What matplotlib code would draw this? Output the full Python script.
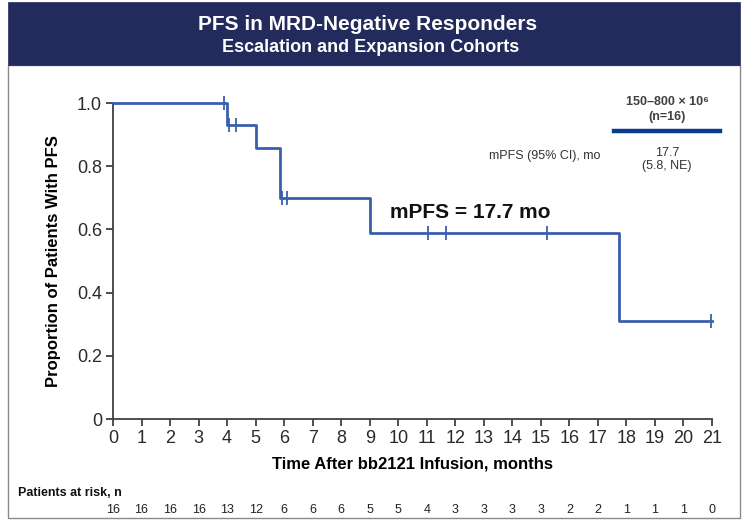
import matplotlib
matplotlib.use("Agg")
import matplotlib.pyplot as plt
from matplotlib.patches import Rectangle
from matplotlib.transforms import blended_transform_factory
import numpy as np

plt.rcParams['font.family'] = ['Liberation Sans', 'DejaVu Sans']

# ---- data ----
step_times = [0, 4.0, 5.0, 5.85, 9.0, 17.75, 21.0]
step_surv = [1.0, 0.929, 0.857, 0.70, 0.59, 0.31, 0.31]
censor_times = [3.9, 4.05, 4.3, 5.92, 6.1, 11.06, 11.68, 15.2, 20.95]
risk_months = list(range(0, 22))
at_risk = [16, 16, 16, 16, 13, 12, 6, 6, 6, 5, 5, 4, 3, 3, 3, 3, 2, 2, 1, 1, 1, 0]
y_ticks = [0, 0.2, 0.4, 0.6, 0.8, 1.0]
y_ticklabels = ['0', '0.2', '0.4', '0.6', '0.8', '1.0']

W, H = 747, 525
fig = plt.figure(figsize=(W / 100, H / 100), dpi=100)
fig.patch.set_facecolor('white')

def fx(px):
    return px / W

def fy(py):
    return 1 - py / H

# panel border
fig.patches.append(Rectangle((fx(8), fy(518)), fx(740) - fx(8), fy(65) - fy(518),
                             transform=fig.transFigure, facecolor='none',
                             edgecolor='#8a8a8a', linewidth=1.0, zorder=-1))
# header banner
fig.patches.append(Rectangle((fx(8), fy(65)), fx(740) - fx(8), fy(2) - fy(65),
                             transform=fig.transFigure, facecolor='#232a5c',
                             edgecolor='#232a5c', linewidth=0.5, zorder=-1))
fig.text(fx(368), fy(25), 'PFS in MRD-Negative Responders', color='white',
         fontsize=15, fontweight='bold', ha='center', va='center')
fig.text(fx(371), fy(48), 'Escalation and Expansion Cohorts', color='white',
         fontsize=13, fontweight='bold', ha='center', va='center')

ax = fig.add_axes([fx(113), fy(419), fx(712) - fx(113), fy(103) - fy(419)])
ax.set_facecolor('none')
ax.set_xlim(0, 21)
ax.set_ylim(0, 1)

curve_color = '#3a5fad'
ax.step(step_times, step_surv, where='post', color=curve_color, lw=2.0,
        clip_on=False, zorder=3)
st = np.array(step_times)
sv = np.array(step_surv)
cens_vals = [sv[np.searchsorted(st, t, side='right') - 1] for t in censor_times]
ax.plot(censor_times, cens_vals, linestyle='none', marker='|', markersize=10,
        markeredgewidth=1.3, color=curve_color, clip_on=False, zorder=4)

for s in ['top', 'right']:
    ax.spines[s].set_visible(False)
for s in ['left', 'bottom']:
    ax.spines[s].set_color('#404040')
    ax.spines[s].set_linewidth(1.3)

ax.set_xticks(risk_months)
ax.set_xticklabels([str(m) for m in risk_months])
ax.set_yticks(y_ticks)
ax.set_yticklabels(y_ticklabels)
ax.tick_params(axis='both', direction='out', length=5, width=1.3, color='#404040',
               labelsize=13, labelcolor='#2a2a2a', pad=3)

ax.set_xlabel('Time After bb2121 Infusion, months', fontsize=12, fontweight='bold',
              labelpad=7)
ax.set_ylabel('Proportion of Patients With PFS', fontsize=12, fontweight='bold',
              labelpad=11)

ax.text(9.7, 0.655, 'mPFS = 17.7 mo', fontsize=15, fontweight='bold',
        ha='left', va='center', color='#111111')

# legend-ish table
fig.text(fx(667), fy(102), '150\u2013800 \u00d7 10\u2076', fontsize=9, fontweight='bold',
         ha='center', va='center', color='#404040')
fig.text(fx(667), fy(117), '(n=16)', fontsize=9, fontweight='bold',
         ha='center', va='center', color='#404040')
fig.add_artist(plt.Line2D([fx(614), fx(720)], [fy(131), fy(131)],
                          transform=fig.transFigure, color='#0c3a8c', lw=3.2))
fig.text(fx(545), fy(156), 'mPFS (95% CI), mo', fontsize=9,
         ha='center', va='center', color='#333333')
fig.text(fx(667), fy(153), '17.7', fontsize=9, ha='center', va='center',
         color='#333333')
fig.text(fx(667), fy(166), '(5.8, NE)', fontsize=9, ha='center', va='center',
         color='#333333')

# risk table
fig.text(fx(18), fy(493), 'Patients at risk, n', fontsize=9, fontweight='bold',
         ha='left', va='center', color='#111111')
trans = blended_transform_factory(ax.transData, fig.transFigure)
for m, n in zip(risk_months, at_risk):
    ax.text(m, fy(510), str(n), transform=trans, fontsize=9, ha='center',
            va='center', color='#222222', clip_on=False)

fig.savefig('out.png', dpi=100, facecolor='white')
